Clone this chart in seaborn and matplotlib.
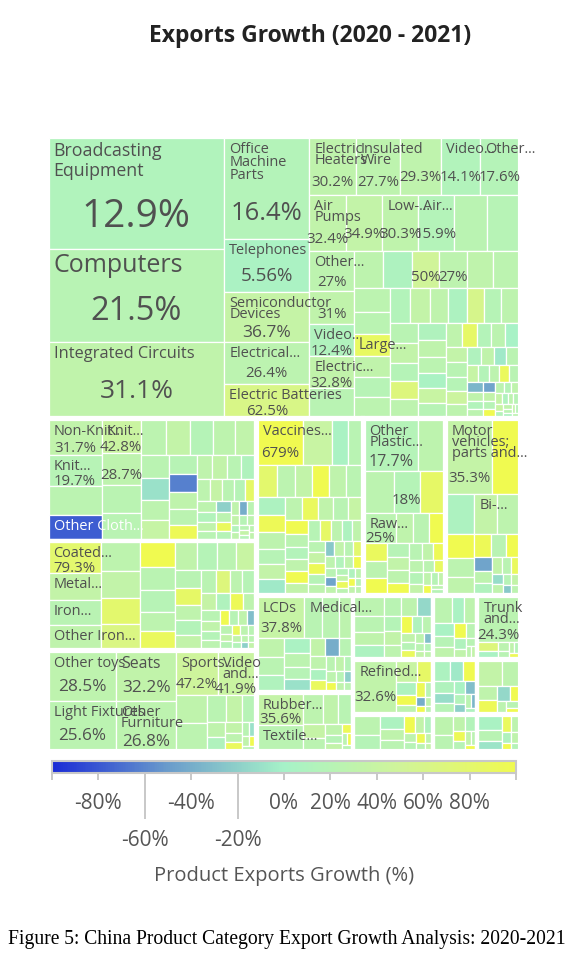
import matplotlib
matplotlib.use("Agg")
import matplotlib.pyplot as plt
from matplotlib.patches import Rectangle
from matplotlib.colors import Normalize
from matplotlib.cm import ScalarMappable
import seaborn as sns

sns.set_theme(style="white")
plt.rcParams['font.family'] = ['Open Sans', 'DejaVu Sans']

# ---- DATA (export value in arbitrary units, growth 2020-2021 in %) ----
section_names = ["Machines", "Textiles", "Metals", "Miscellaneous", "Chemical Products",
                 "Plastics and Rubbers", "Transportation", "Instruments", "Footwear and Headwear",
                 "Stone and Glass", "Mineral Products", "Paper Goods", "Foodstuffs", "Animal Hides",
                 "Wood Products", "Vegetable Products", "Animal Products", "Precious Metals"]
section_values = [133600, 25600, 22800, 21100, 18900, 14500, 13200, 9400, 5700,
                  5120, 4400, 2960, 2816, 2752, 2420, 2365, 1628, 1591]

# labels cover the first cells only; None = no text, "" = value only
mach_labels = ["Broadcasting\nEquipment", "Computers", "Integrated Circuits", "Office\nMachine\nParts",
               "Telephones", "Semiconductor\nDevices", "Electrical...", "Electric Batteries",
               "Electric\nHeaters", "Insulated\nWire", "", "Video...", "Other...", "Air\nPumps", "",
               "Low-...", "Air...", None, None, "Other...", "", "Video...", "Electric...", None, None,
               None, "", "", None, None, None, None, "Large..."]
mach_values = [19824, 16638, 13452, 8772, 4644, 4300, 3698, 2838, 2700, 2620, 2380, 2300, 2230, 2100,
               2080, 2060, 2040, 1880, 1820, 1800, 1490, 1460, 1440, 1310, 1100, 1060, 1040, 1020, 1000,
               950, 860, 820, 790, 770, 745, 720, 700, 690, 660, 640, 615, 600, 600, 585, 560, 540, 520,
               505, 490, 470, 455, 440, 420, 405, 390, 370, 355, 340, 330, 315, 300, 290, 275, 260, 250,
               240, 225, 215, 205, 195, 185, 175, 165, 155, 150, 140, 130, 122, 115, 108, 100, 92, 85,
               80, 74, 68, 62, 57, 52, 47, 42, 38, 34, 30, 27, 24]
mach_growth = [12.9, 21.5, 31.1, 16.4, 5.56, 36.7, 26.4, 62.5, 30.2, 27.7, 29.3, 14.1, 17.6, 32.4,
               34.9, 30.3, 15.9, 24, 20, 27, 31, 12.4, 32.8, 22, 28, 10, 50, 27, 30, 26,
               26, 24, 88, 31, 20, 26, 15, 35, 29, 8, 60, 19, 28, 22, 33, 18, 70, 27, 12, 30, 25, 5,
               40, 21, 29, 85, 16, 26, 2, 34, 23, 19, 45, 28, 11, 31, -5, 24, 38, 17, 27, 92, 22, -35,
               30, 14, 26, -45, 33, 20, 110, 25, 18, 29, 36, 12, 27, 21, 40, 16, 30, 24, 8, 33, 19, 26]

tex_labels = ["Non-Knit...", "Knit...", None, "Other Cloth...", "Knit...", ""]
tex_values = [1870, 1705, 1540, 1320, 1300, 1250, 1100, 1050, 900, 860, 820, 780, 700, 660, 620,
              590, 560, 530, 500, 470, 440, 410, 385, 360, 340, 320, 300, 280, 260, 240, 225, 210, 195,
              180, 168, 156, 145, 134, 124, 115, 106, 98, 90, 82, 75, 68, 62, 56, 50, 45, 40, 36]
tex_growth = [31.7, 19.7, 25, -78, 42.8, 28.7, 24, 22, 26, 35, 18, 28, 32, 24, -10, 27, 38, 21, -62,
              30, 25, 95, 29, 33, 22, 12, 27, 36, 24, 19, 85, 28, 14, 31, 23, -20, 26, 90, 18, 30, -40,
              24, 33, 20, 27, 15, 29, 22, 35, 18, 26, 30]

met_labels = ["Coated...", "Metal...", "Iron...", "Other Iron..."]
met_values = [1650, 1500, 1360, 1300, 1150, 1100, 1050, 1000, 900, 860, 780, 700, 660, 620, 580, 550,
              520, 490, 460, 430, 400, 375, 350, 330, 310, 290, 270, 250, 235, 220, 205, 190, 175, 162,
              150, 140, 130, 120, 110, 100, 92, 85, 78, 72, 66, 60, 55, 50, 45, 40]
met_growth = [79.3, 35, 22, 30, 28, 33, 80, 65, 100, 24, 20, 27, 90, 31, 18, 25, 40, 22, 85, 29, 16, 33,
              24, 70, 27, 20, 36, 12, 95, 28, 23, 31, 18, 26, 100, 21, 30, -30, 25, 34, 19, 88, 27, 22,
              31, 15, 28, -20, 24, 33]

misc_labels = ["Other toys", "Light Fixtures", "Seats", "Other\nFurniture", "Sports...", "Video\nand..."]
misc_values = [3500, 3430, 3150, 3087, 1880, 1692, 900, 830, 560, 430, 360, 300, 250, 200, 160, 130,
               105, 85, 70, 55, 45]
misc_growth = [28.5, 25.6, 32.2, 26.8, 47.2, 41.9, 30, 26, 24, 35, 20, 29, 12, 33, 27, 90, 22, -10, 31,
               100, 25]

chem_labels = ["Vaccines..."]
chem_values = [2116, 1334, 700, 650, 640, 610, 590, 570, 550, 530, 510, 490, 470, 450, 430, 410, 395,
               380, 365, 350, 335, 320, 305, 290, 280, 268, 256, 245, 234, 224, 214, 204, 195, 186, 178,
               170, 162, 154, 147, 140, 133, 126, 120, 114, 108, 102, 97, 92, 87, 82, 78, 74, 70, 66,
               62, 58, 55, 52]
chem_growth = [679, 40, 5, 22, 80, 26, 33, 110, 30, 24, 8, 95, 28, 20, 35, -5, 27, 90, 31, 22, 38, 100,
               25, 15, 29, 120, 33, 21, 85, 27, 10, 30, 24, 36, 95, 19, 28, -25, 32, 23, 80, 27, 14, 30,
               105, 22, -45, 29, 18, 33, 90, 25, 12, 28, 100, 21, 31, 26]

plas_labels = ["Other\nPlastic...", None, None, "", None, "Raw..."]
plas_values = [2915, 1375, 1302, 1176, 1080, 1000, 560, 520, 480, 440, 400, 370, 340, 310, 285, 260,
               240, 220, 200, 180, 165, 150, 135, 120, 108, 96, 85, 75, 66, 58]
plas_growth = [17.7, 28, 26, 18, 85, 25, 30, 24, 100, 90, 26, 105, 20, 33, 28, 110, 22, 31, 95, 27, 18,
               34, 25, 88, 29, 21, 32, 100, 26, 19]

tran_labels = ["Motor\nvehicles;\nparts and...", None, None, "Bi-..."]
tran_values = [3588, 2106, 1204, 989, 946, 700, 560, 480, 420, 360, 310, 270, 235, 205, 180, 158, 140,
               124, 110, 97, 86, 76, 67]
tran_growth = [35.3, 110, 8, 35, 28, 110, 26, 30, 95, 22, 105, -45, 28, 12, 33, 24, 90, -12, 29, 20, 35,
               -25, 26]

inst_labels = ["LCDs", "Medical..."]
inst_values = [2160, 840, 780, 560, 540, 500, 460, 420, 390, 360, 330, 300, 270, 245, 220, 200, 180,
               160, 145, 130, 118, 106, 95, 85, 76, 68]
inst_growth = [37.8, 22, 24, 28, 30, 24, 12, 6, 26, 20, -10, 33, -40, 22, 29, 8, 90, 25, 31, 18, 27,
               100, 21, -20, 30, 24]

foot_labels = ["Rubber...", "Textile..."]
foot_values = [1519, 1225, 640, 520, 420, 340, 270, 210, 160, 120, 90, 70, 55, 45]
foot_growth = [35.6, 24, 27, 31, 22, 36, 25, 29, 19, 33, 95, 26, 100, 23]

stone_values = [670, 560, 470, 420, 400, 360, 330, 300, 270, 250, 220, 200, 180, 160, 140, 125, 110,
                95, 85, 75, 65, 55]
stone_growth = [26, 24, 30, 8, 22, 28, -15, 18, 33, 27, 100, 12, 25, 31, 20, 90, 28, -30, 24, 35, 17, 29]

mine_labels = ["Refined..."]
mine_values = [2496, 520, 360, 300, 230, 180, 140, 110, 90, 75, 60, 50]
mine_growth = [32.6, 40, 85, 10, 100, 28, 95, 22, -40, 30, 105, 24]

pap_values = [560, 420, 360, 300, 250, 210, 180, 150, 125, 105, 90, 75, 62, 52]
pap_growth = [26, 18, 8, 30, 24, 110, 33, 12, 27, 20, 95, 29, 22, 35]

food_values = [520, 380, 340, 300, 260, 230, 200, 170, 140, 110, 90, 70, 55]
food_growth = [26, 6, 28, 4, 20, 30, 105, 24, 12, 31, 22, 27, 33]

hide_labels = ["Trunk\nand..."]
hide_values = [2050, 200, 150, 120, 90, 70, 55, 45]
hide_growth = [24.3, 70, 5, 26, 22, 30, 18, 95]

wood_values = [380, 330, 300, 270, 240, 210, 180, 155, 130, 110, 90, 75, 60]
wood_growth = [8, -5, 100, 12, -12, 20, 5, -30, 15, -20, 24, -35, 10]

veg_values = [670, 470, 300, 260, 230, 160, 120, 90, 65]
veg_growth = [35, 28, 30, 95, -15, 105, 26, 22, 100]

anim_values = [420, 300, 220, 180, 150, 120, 95, 75, 60]
anim_growth = [28, 24, 30, 15, 95, 20, 33, 25, 100]

prec_values = [380, 300, 230, 180, 150, 120, 90, 70, 55]
prec_growth = [5, 22, -8, 90, 28, 12, 30, 100, 18]

children = [
    (mach_labels, mach_values, mach_growth), (tex_labels, tex_values, tex_growth),
    (met_labels, met_values, met_growth), (misc_labels, misc_values, misc_growth),
    (chem_labels, chem_values, chem_growth), (plas_labels, plas_values, plas_growth),
    (tran_labels, tran_values, tran_growth), (inst_labels, inst_values, inst_growth),
    (foot_labels, foot_values, foot_growth), ([], stone_values, stone_growth),
    (mine_labels, mine_values, mine_growth), ([], pap_values, pap_growth),
    ([], food_values, food_growth), (hide_labels, hide_values, hide_growth),
    ([], wood_values, wood_growth), ([], veg_values, veg_growth),
    ([], anim_values, anim_growth), ([], prec_values, prec_growth),
]
for lab, v, g in children:
    assert len(v) == len(g), (len(v), len(g))


def squarify(values, x0, y0, x1, y1, ratio=(1 + 5 ** 0.5) / 2):
    """d3-style squarified treemap; returns (x, y, w, h) per value."""
    order = sorted(range(len(values)), key=lambda i: -values[i])
    vals = [values[i] for i in order]
    rects = [None] * len(values)
    remaining = float(sum(vals))
    i0, n = 0, len(vals)
    while i0 < n:
        dx, dy = x1 - x0, y1 - y0
        i1 = i0 + 1
        s = mn = mx = vals[i0]
        alpha = max(dy / dx, dx / dy) / (remaining * ratio)
        beta = s * s * alpha
        best = max(mx / beta, beta / mn)
        while i1 < n:
            v = vals[i1]
            s2 = s + v
            beta = s2 * s2 * alpha
            r = max(max(mx, v) / beta, beta / min(mn, v))
            if r > best:
                break
            s, mn, mx, best = s2, min(mn, v), max(mx, v), r
            i1 += 1
        if dx < dy:
            h = dy * s / remaining
            xx = x0
            for k in range(i0, i1):
                w = dx * vals[k] / s
                rects[order[k]] = (xx, y0, w, h)
                xx += w
            y0 += h
        else:
            w = dx * s / remaining
            yy = y0
            for k in range(i0, i1):
                h = dy * vals[k] / s
                rects[order[k]] = (x0, yy, w, h)
                yy += h
            x0 += w
        remaining -= s
        i0 = i1
    return rects


cmap = sns.blend_palette(['#1a2bd6', '#6a9ccb', '#a6f2c8', '#d0f49a', '#f0fa50'], n_colors=256, as_cmap=True)
norm = Normalize(vmin=-100, vmax=100, clip=True)


def pt(px):
    return px * 0.72


# ---- FIGURE ----
W, H = 473, 615
fig = plt.figure(figsize=(5.78, 9.62), dpi=100)
ax = fig.add_axes([47 / 578, 1 - 752 / 962, W / 578, H / 962])
ax.set_xlim(0, W)
ax.set_ylim(H, 0)
ax.axis('off')

pad = 1.5
sec_rects = squarify(section_values, 0, 0, W, H)
for (sx, sy, sw, sh), (labels, vals, growth) in zip(sec_rects, children):
    cells = squarify(vals, sx + pad, sy + pad, sx + sw - pad, sy + sh - pad)
    for (x, y, w, h), g in zip(cells, growth):
        ax.add_patch(Rectangle((x, y), w, h, facecolor=cmap(norm(g)), edgecolor='white', lw=0.9))
    for i, lab in enumerate(labels):
        if lab is None:
            continue
        x, y, w, h = cells[i]
        g = growth[i]
        color = 'white' if g < -50 else '#505050'
        nb = 0
        if lab:
            lines = lab.split('\n')
            nchar = max(len(s) for s in lines)
            name_px = min(0.32 * h / len(lines), (w - 8) / (0.54 * nchar))
            name_px = max(14.5, min(name_px, 25))
            ls = 1.15 if h > 108 else (0.85 if h > 80 else 0.65)
            ax.text(x + 5, y + 3, lab, fontsize=pt(name_px), color=color, va='top', ha='left',
                    linespacing=ls)
            nb = 3 + name_px * (1 + (len(lines) - 1) * ls) * 1.15
        if w >= 26 and h >= 29:
            val_px = max(15, min(0.35 * h, 0.3 * w, 40))
            vy = y + nb + (h - nb) / 2 if lab else y + 0.68 * h
            vy = min(vy, y + h - 0.35 * val_px)
            ax.text(x + w / 2, vy, f"{g:.3g}%", ha='center', va='center', fontsize=pt(val_px),
                    color=color)
    ax.add_patch(Rectangle((sx, sy), sw, sh, fill=False, edgecolor='white', lw=3))

# ---- COLORBAR ----
cax = fig.add_axes([52 / 578, 1 - 774 / 962, 464 / 578, 12 / 962])
sm = ScalarMappable(norm=norm, cmap=cmap)
cb = fig.colorbar(sm, cax=cax, orientation='horizontal')
cb.outline.set_edgecolor('#c8c8c8')
cb.outline.set_linewidth(1.5)
ticks = list(range(-100, 101, 20))
cb.set_ticks(ticks)
cb.set_ticklabels(['' if abs(t) == 100 else f'{t}%' for t in ticks])
cax.tick_params(axis='x', length=5, width=1.4, color='#c8c8c8', labelsize=15,
                labelcolor='#555555', pad=9)
for tk, t in zip(cax.xaxis.get_major_ticks(), ticks):
    if t in (-60, -20):
        tk._apply_params(size=33, pad=7)

fig.text(284 / 578, 1 - 876 / 962, "Product Exports Growth (%)", ha='center', va='center',
         fontsize=14.5, color='#555555')
fig.text(310 / 578, 1 - 36 / 962, "Exports Growth (2020 - 2021)", ha='center', va='center',
         fontsize=16.5, fontweight='bold', color='#222222')
fig.text(8 / 578, 1 - 940 / 962, "Figure 5: China Product Category Export Growth Analysis: 2020-2021",
         ha='left', va='center', fontsize=14.1, family='Liberation Serif', color='black')

fig.savefig('out.png', dpi=100)
